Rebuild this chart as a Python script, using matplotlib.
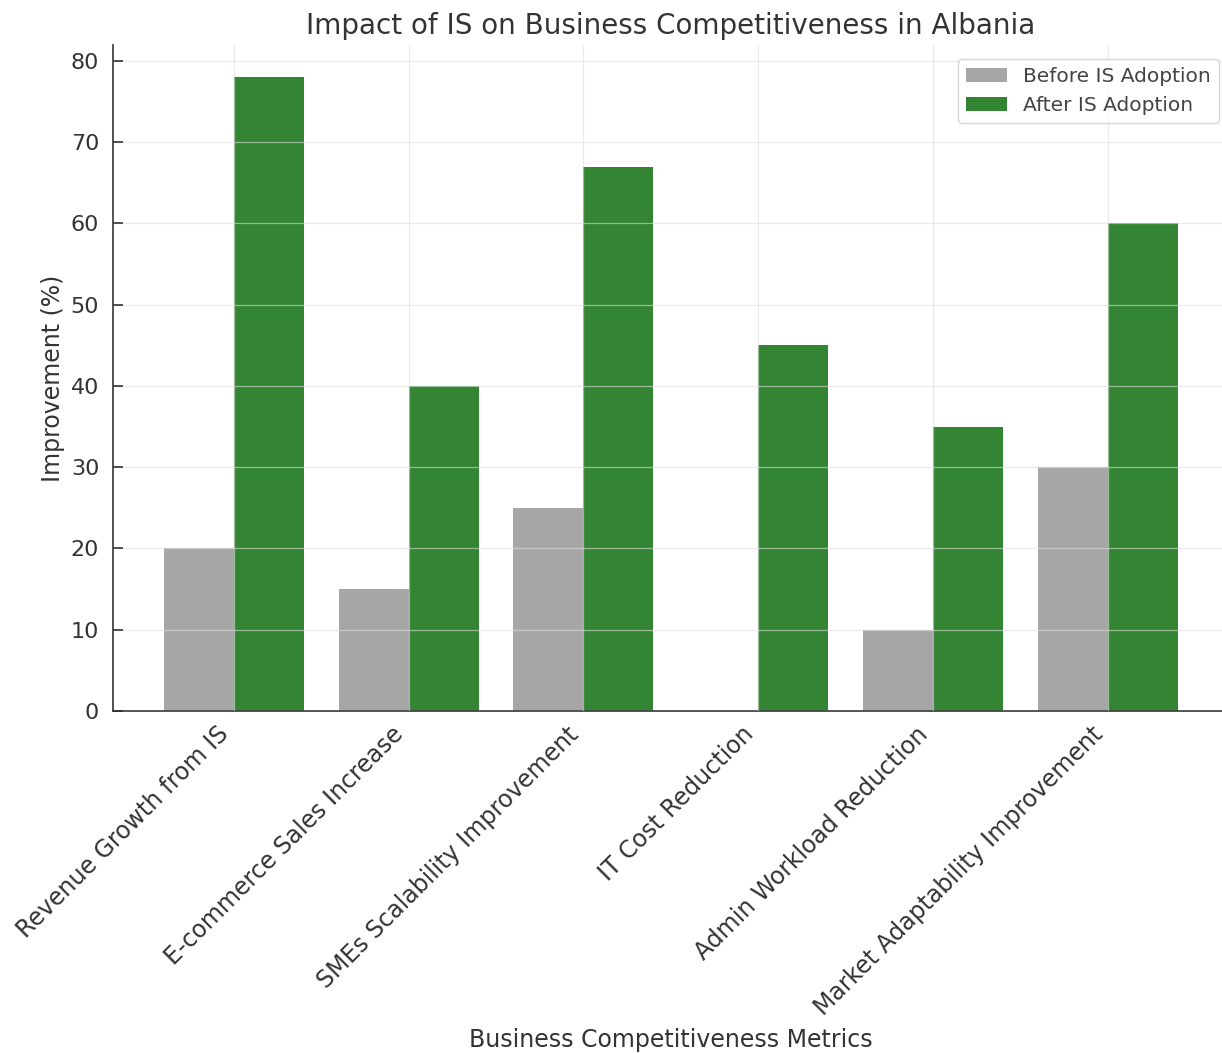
import matplotlib
matplotlib.use("Agg")
import matplotlib.pyplot as plt
import numpy as np

categories = ["Revenue Growth from IS", "E-commerce Sales Increase", "SMEs Scalability Improvement",
              "IT Cost Reduction", "Admin Workload Reduction", "Market Adaptability Improvement"]
before = [20, 15, 25, 0, 10, 30]
after = [78, 40, 67, 45, 35, 60]
yticks = [0, 10, 20, 30, 40, 50, 60, 70, 80]

fig = plt.figure(figsize=(12.22, 10.53), dpi=100)
ax = fig.add_axes([0.0925, 0.3248, 0.913, 0.632])

x = np.arange(len(categories))
w = 0.4
ax.bar(x - w/2, before, w, color="#a6a6a6", label="Before IS Adoption")
ax.bar(x + w/2, after, w, color="#338533", label="After IS Adoption")

ax.set_xticks(x)
ax.set_xticklabels(categories, rotation=45, ha="right", fontsize=17, color="#333333")
ax.set_yticks(yticks)
ax.tick_params(axis="y", labelsize=16, colors="#333333", length=7, width=1.2, direction="in", pad=10)
ax.tick_params(axis="x", length=0, pad=8)
ax.grid(True, linestyle="-", color="#dddddd", alpha=0.6, linewidth=0.9)
ax.set_axisbelow(False)
for s in ["top", "right"]:
    ax.spines[s].set_visible(False)
for s in ["left", "bottom"]:
    ax.spines[s].set_color("#333333")
    ax.spines[s].set_linewidth(1.2)

ax.set_title("Impact of IS on Business Competitiveness in Albania", fontsize=20, color="#333333", pad=8)
ax.set_xlabel("Business Competitiveness Metrics", fontsize=17, color="#333333", labelpad=6)
ax.set_ylabel("Improvement (%)", fontsize=17, color="#333333")
leg = ax.legend(loc="upper right", fontsize=14.5, bbox_to_anchor=(1.0, 0.995))
for t in leg.get_texts():
    t.set_color("#444444")

fig.savefig("out.png", dpi=100)
